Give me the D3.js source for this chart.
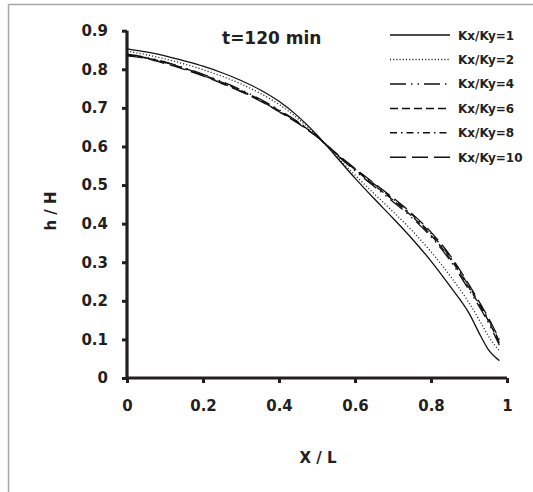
<!DOCTYPE html>
<html>
<head>
<meta charset="utf-8">
<script src="https://cdn.jsdelivr.net/npm/d3@7"></script>
<style>
  html, body { margin: 0; padding: 0; background: #fff; }
  svg { display: block; }
  text { font-family: "DejaVu Sans", sans-serif; font-weight: bold; fill: #231f20; }
</style>
</head>
<body>
<div id="chart"></div>
<script>
// ---- data ----
const xValues = [0, 0.05, 0.1, 0.15, 0.2, 0.25, 0.3, 0.35, 0.4, 0.45, 0.5, 0.55, 0.6, 0.65, 0.7, 0.75, 0.8, 0.85, 0.9, 0.93, 0.95, 0.98];
const seriesNames = ["Kx/Ky=1", "Kx/Ky=2", "Kx/Ky=4", "Kx/Ky=6", "Kx/Ky=8", "Kx/Ky=10"];
const k1  = [0.853, 0.845, 0.835, 0.822, 0.808, 0.791, 0.771, 0.747, 0.717, 0.678, 0.630, 0.574, 0.518, 0.465, 0.414, 0.361, 0.303, 0.238, 0.168, 0.110, 0.075, 0.045];
const k2  = [0.847, 0.838, 0.827, 0.814, 0.799, 0.782, 0.762, 0.738, 0.709, 0.672, 0.628, 0.576, 0.526, 0.478, 0.431, 0.382, 0.327, 0.265, 0.195, 0.145, 0.110, 0.070];
const k4  = [0.839, 0.831, 0.819, 0.804, 0.787, 0.768, 0.747, 0.723, 0.695, 0.664, 0.626, 0.580, 0.537, 0.497, 0.457, 0.415, 0.366, 0.305, 0.228, 0.180, 0.145, 0.085];
const k6  = [0.838, 0.830, 0.818, 0.803, 0.786, 0.766, 0.745, 0.721, 0.693, 0.662, 0.626, 0.581, 0.540, 0.500, 0.461, 0.419, 0.370, 0.310, 0.234, 0.185, 0.150, 0.090];
const k8  = [0.837, 0.829, 0.817, 0.801, 0.784, 0.764, 0.743, 0.719, 0.691, 0.661, 0.625, 0.582, 0.542, 0.503, 0.464, 0.423, 0.374, 0.314, 0.238, 0.189, 0.154, 0.095];
const k10 = [0.835, 0.828, 0.815, 0.800, 0.783, 0.763, 0.742, 0.718, 0.690, 0.660, 0.625, 0.583, 0.543, 0.505, 0.467, 0.426, 0.378, 0.318, 0.242, 0.192, 0.158, 0.100];
const xTicks = [0, 0.2, 0.4, 0.6, 0.8, 1];
const yTicks = [0, 0.1, 0.2, 0.3, 0.4, 0.5, 0.6, 0.7, 0.8, 0.9];
const titleText = "t=120 min";
const xLabel = "X / L";
const yLabel = "h / H";

const allSeries = [k1, k2, k4, k6, k8, k10];
const dashes = [null, "1,2.2", "16,5,1.5,5,1.5,5", "8,4", "7,4,1.5,4", "16,6"];

// ---- layout ----
const W = 533, H = 492;
const svg = d3.select("#chart").append("svg").attr("width", W).attr("height", H);

// outer frame (only top and left edges visible in the crop)
svg.append("line").attr("x1", 8.5).attr("y1", 4.5).attr("x2", W).attr("y2", 4.5)
  .attr("stroke", "#a6a6a6").attr("stroke-width", 1.5);
svg.append("line").attr("x1", 8.5).attr("y1", 4.5).attr("x2", 8.5).attr("y2", H)
  .attr("stroke", "#a6a6a6").attr("stroke-width", 1.5);

const x = d3.scaleLinear().domain([0, 1]).range([127, 507]);
const y = d3.scaleLinear().domain([0, 0.9]).range([378, 30.7]);

// axes
const xAxis = d3.axisBottom(x).tickValues(xTicks).tickSize(5).tickPadding(17)
  .tickFormat(d3.format("~g"));
const yAxis = d3.axisLeft(y).tickValues(yTicks).tickSize(5).tickPadding(14)
  .tickFormat(d3.format("~g"));

const gx = svg.append("g").attr("transform", `translate(0,${y(0)})`).call(xAxis);
const gy = svg.append("g").attr("transform", `translate(${x(0)},0)`).call(yAxis);
[gx, gy].forEach(g => {
  g.select(".domain").attr("stroke", "#231f20").attr("stroke-width", 3.2);
  g.selectAll(".tick line").attr("stroke", "#231f20").attr("stroke-width", 3);
  g.selectAll(".tick text").attr("font-size", 15).attr("fill", "#231f20")
    .attr("font-family", "DejaVu Sans").attr("font-weight", "bold");
});
gx.select(".domain").attr("d", `M${x(0)},0H${x(1)}`);
gy.select(".domain").attr("d", `M0,${y(0.9)}V${y(0)}`);

// curves
const line = d3.line().x((d, i) => x(xValues[i])).y(d => y(d)).curve(d3.curveMonotoneX);
allSeries.forEach((s, i) => {
  svg.append("path").datum(s).attr("d", line)
    .attr("fill", "none").attr("stroke", "#111").attr("stroke-width", 1.3)
    .attr("stroke-dasharray", dashes[i]);
});

// title
svg.append("text").attr("x", 222).attr("y", 44).attr("font-size", 17).text(titleText);

// axis labels
svg.append("text").attr("x", 318).attr("y", 463).attr("text-anchor", "middle")
  .attr("font-size", 15).text(xLabel);
svg.append("text").attr("transform", `translate(56,211) rotate(-90)`).attr("text-anchor", "middle")
  .attr("font-size", 15).text(yLabel);

// legend
const legendY = d3.scalePoint().domain(seriesNames).range([35, 157.3]);
seriesNames.forEach((name, i) => {
  const ly = legendY(name);
  svg.append("line").attr("x1", 390).attr("x2", 450).attr("y1", ly).attr("y2", ly)
    .attr("stroke", "#111").attr("stroke-width", 1.5).attr("stroke-dasharray", dashes[i]);
  svg.append("text").attr("x", 458).attr("y", ly + 4.5).attr("font-size", 12).text(name);
});
</script>
</body>
</html>
